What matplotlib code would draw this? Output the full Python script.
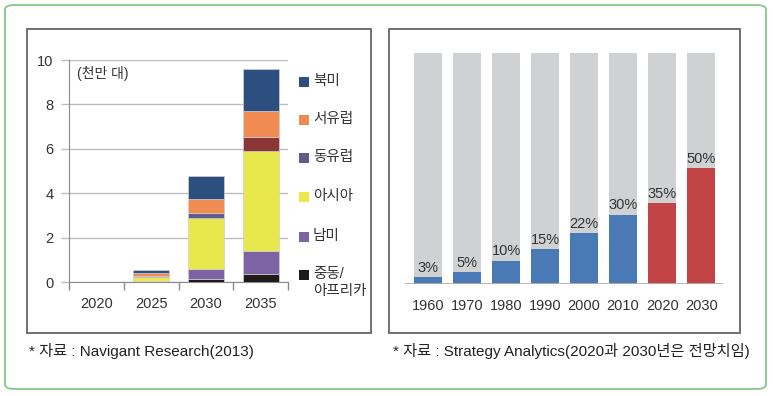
import numpy as np
import matplotlib.pyplot as plt
from matplotlib.patches import Rectangle, FancyBboxPatch

plt.rcParams['font.family'] = ['Liberation Sans', 'Noto Sans CJK KR', 'DejaVu Sans']

# left chart: EV sales by region (10 million units)
years_left = ['2020', '2025', '2030', '2035']
regions = ['중동/\n아프리카', '남미', '아시아', '동유럽', '서유럽', '북미']
mideast_africa = [0, 0.01, 0.12, 0.38]
south_america = [0, 0.03, 0.46, 1.02]
asia = [0, 0.20, 2.32, 4.51]
east_europe = [0, 0.05, 0.22, 0.60]
west_europe = [0, 0.10, 0.60, 1.19]
north_america = [0, 0.15, 1.05, 1.91]
unit_label = '(천만 대)'
source_left = '* 자료 : Navigant Research(2013)'

# right chart: share by decade
years_right = ['1960', '1970', '1980', '1990', '2000', '2010', '2020', '2030']
shares = [3, 5, 10, 15, 22, 30, 35, 50]
forecast = [False, False, False, False, False, False, True, True]
source_right = '* 자료 : Strategy Analytics(2020과 2030년은 전망치임)'

W, H = 773, 396
fig = plt.figure(figsize=(W / 100, H / 100), dpi=100)


def px(x, y):
    # pixel coords (top-left origin) -> figure fraction
    return x / W, 1 - y / H


# outer green box
fig.patches.append(FancyBboxPatch((5 / W, 1 - 389 / H), 761 / W, 384 / H,
                                  boxstyle='round,pad=0,rounding_size=0.012',
                                  transform=fig.transFigure, fill=False,
                                  edgecolor='#86c886', lw=1.3))
# panel frames
for x0, x1 in [(27, 371), (389, 740)]:
    fig.patches.append(Rectangle((x0 / W, 1 - 333 / H), (x1 - x0) / W, 304 / H,
                                 transform=fig.transFigure, fill=False,
                                 edgecolor='#707070', lw=1.4))

# ---- left chart
ax = fig.add_axes([69 / W, 1 - 282 / H, 219 / W, 222 / H])
series = [mideast_africa, south_america, asia, east_europe, west_europe, north_america]
colors = ['#1f1b1d', '#7d63a3', '#e8e84c', '#5f5b8b', '#f08c52', '#2c4f80']
x = np.arange(len(years_left))
bottom = np.zeros(len(years_left))
for i, (vals, col) in enumerate(zip(series, colors)):
    cols = [col] * len(vals)
    if i == 3:
        cols[3] = '#8b3636'  # the original shows this segment in maroon
    ax.bar(x, vals, width=0.66, bottom=bottom, color=cols,
           edgecolor='#d0d0d0', linewidth=0.5, zorder=3)
    bottom += np.array(vals)

ax.set_xlim(-0.5, 3.5)
ax.set_ylim(0, 10)
ax.set_yticks(range(0, 11, 2))
ax.grid(axis='y', color='#bdbdbd', lw=1.0, zorder=0)
ax.set_xticks(x)
ax.set_xticklabels(years_left)
ax.set_xticks(np.arange(-0.5, 4, 1), minor=True)
ax.tick_params(axis='x', which='major', length=0, pad=11, labelsize=10.5, labelcolor='#333333')
ax.tick_params(axis='x', which='minor', length=6, color='#8a8a8a', width=1)
ax.tick_params(axis='y', length=6, color='#bdbdbd', width=1, pad=5, labelsize=10.5, labelcolor='#333333')
for s in ['top', 'right']:
    ax.spines[s].set_visible(False)
ax.spines['left'].set_color('#8a8a8a')
ax.spines['bottom'].set_color('#8a8a8a')
ax.text(px(77, 73)[0], px(77, 73)[1], unit_label, transform=fig.transFigure,
        fontsize=10, color='#333333', va='center', ha='left')

# legend (top entry first)
leg_y = [275, 237, 197, 158, 120, 82]
for name, col, yy in zip(regions, colors, leg_y):
    fx, fy = px(299, yy + 5)
    fig.patches.append(Rectangle((fx, fy), 10 / W, 10 / H, transform=fig.transFigure,
                                 facecolor=col, edgecolor='none'))
    tx, ty = px(313, yy - 8)
    fig.text(tx, ty, name, fontsize=10.5, color='#333333', va='top', ha='left',
             linespacing=1.25)

# ---- right chart
ax2 = fig.add_axes([405 / W, 1 - 284 / H, 318 / W, 231 / H])
x2 = np.arange(len(years_right))
ax2.bar(x2, [100] * len(x2), width=0.72, color='#d0d1d3', zorder=1)
bar_cols = ['#c24444' if f else '#4a7ab5' for f in forecast]
ax2.bar(x2, shares, width=0.72, color=bar_cols, zorder=2)
for xi, v in zip(x2, shares):
    ax2.annotate(f'{v}%', (xi, v), xytext=(0, 4), textcoords='offset points',
                 ha='center', va='baseline', fontsize=10.5, color='#333333')
ax2.set_xlim(-0.59, 7.56)
ax2.set_ylim(0, 100)
ax2.axhline(0, color='#b0b0b0', lw=2, zorder=3)
ax2.set_xticks(x2)
ax2.set_xticklabels(years_right)
ax2.tick_params(axis='x', length=0, pad=11, labelsize=10.5, labelcolor='#333333')
ax2.set_yticks([])
for s in ax2.spines.values():
    s.set_visible(False)

# sources
fig.text(*px(29, 351), source_left, fontsize=11, color='#222222', va='center', ha='left')
fig.text(*px(393, 351), source_right, fontsize=11, color='#222222', va='center', ha='left')

fig.savefig('out.png', dpi=100)
